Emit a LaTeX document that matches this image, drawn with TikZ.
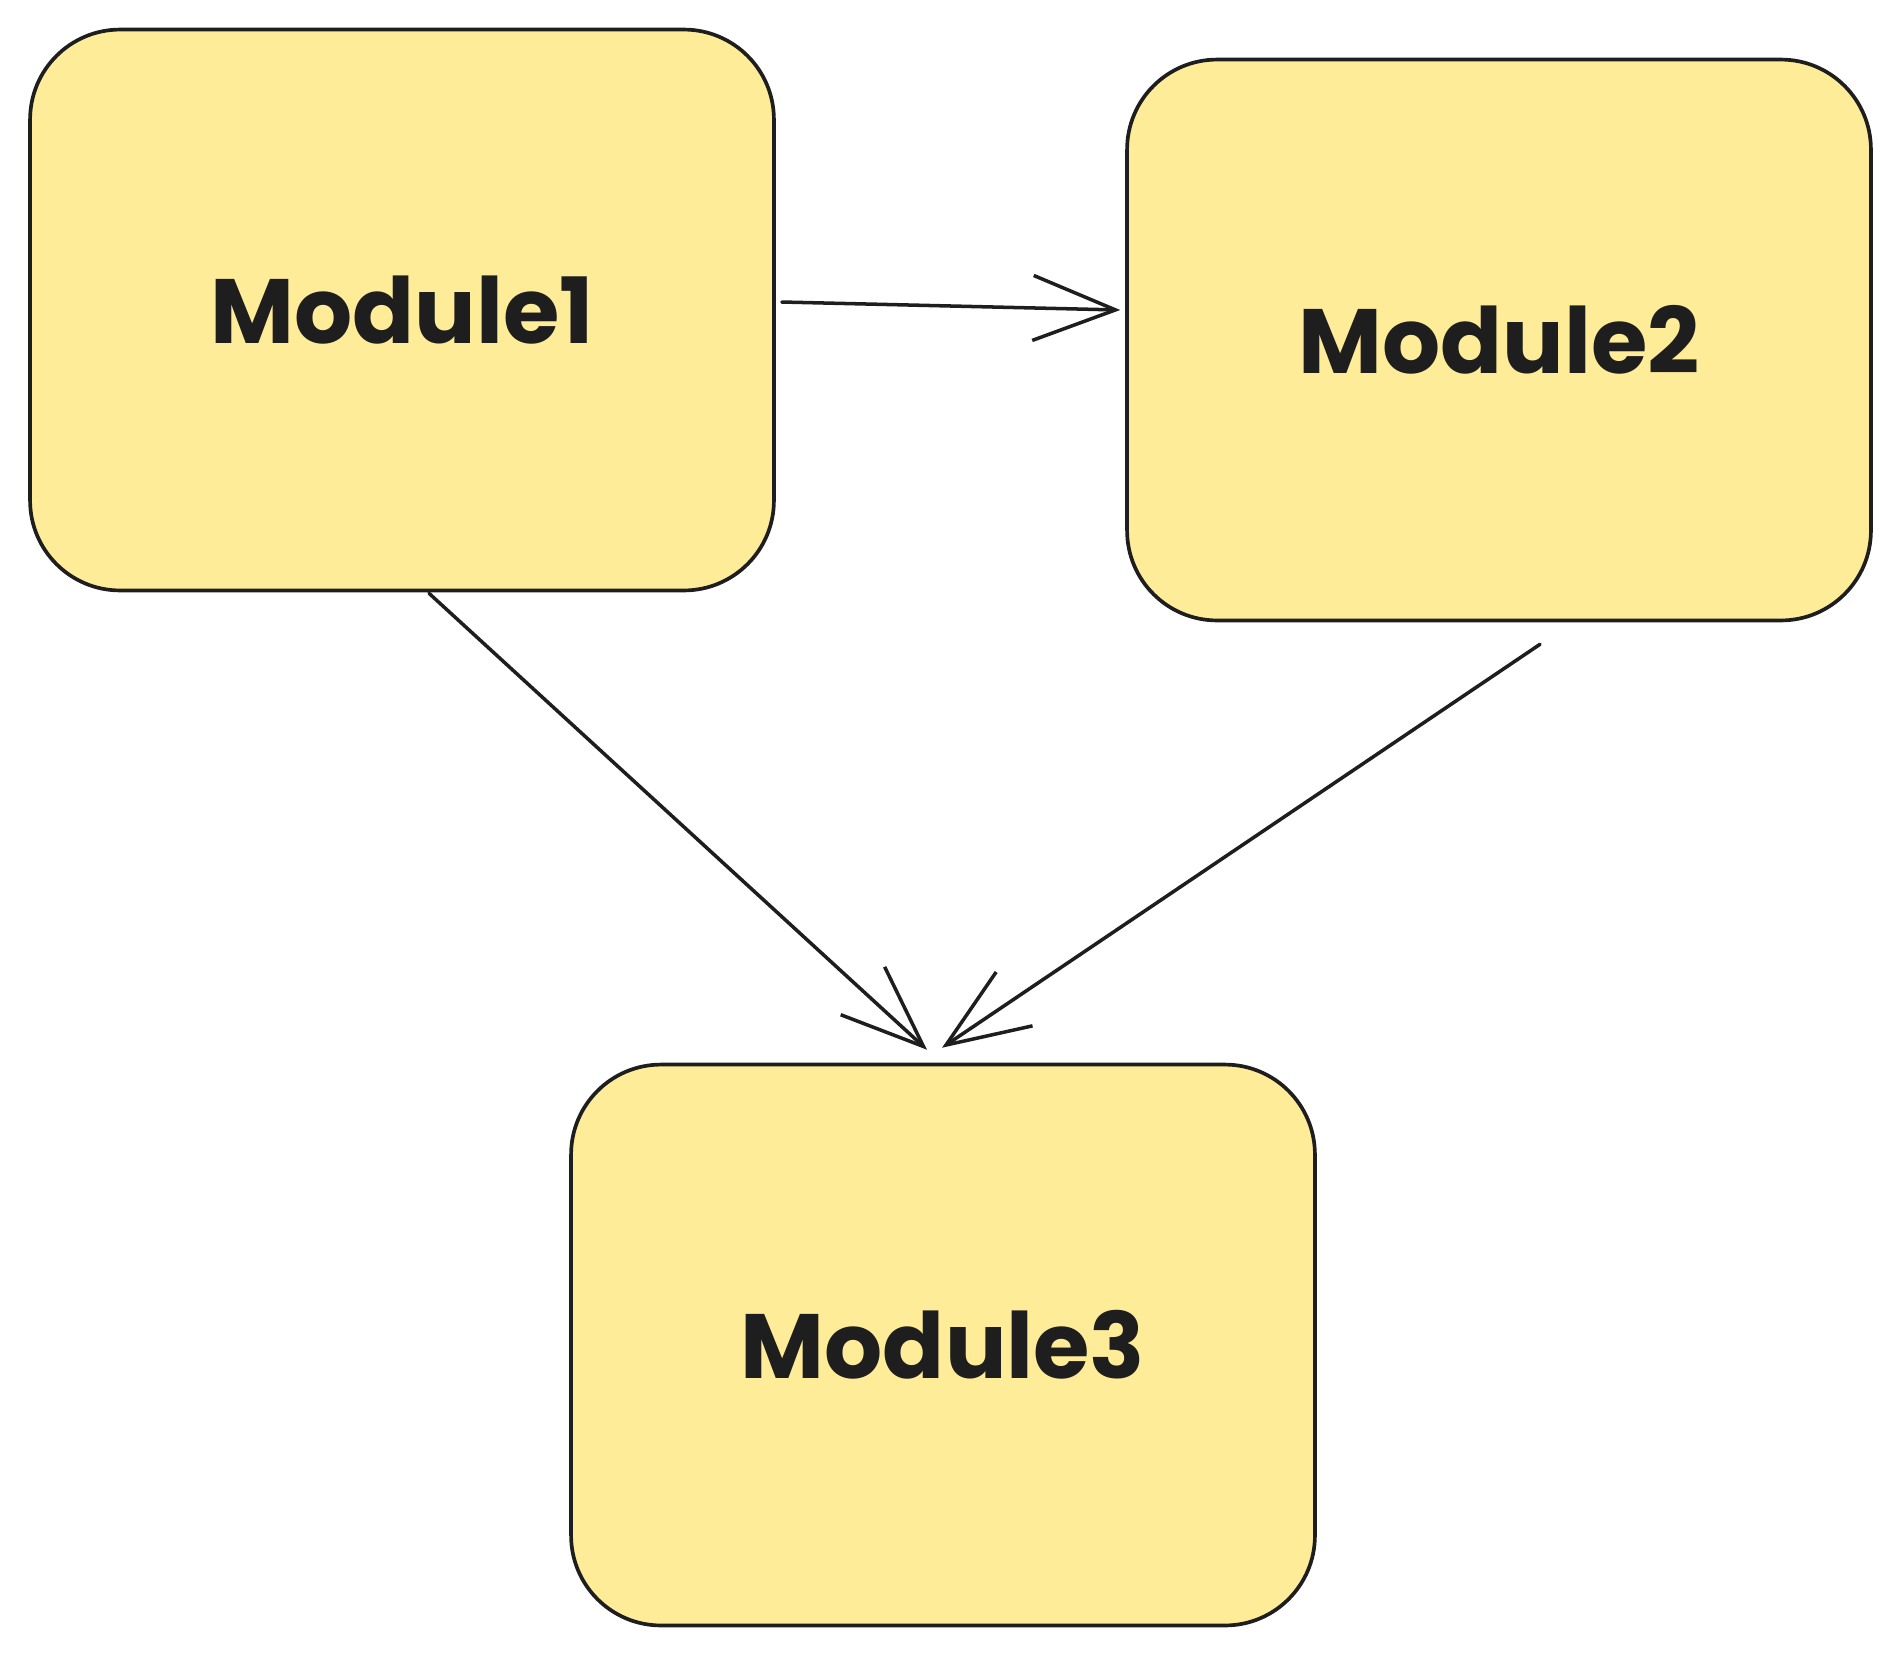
\documentclass[tikz,border=0pt]{standalone}
\usepackage{fontspec}
\setmainfont{Poppins}
\usetikzlibrary{arrows.meta}
\begin{document}
\begin{tikzpicture}[
        x=0.02cm, y=-0.02cm,
        module/.style={draw=mystroke, fill=myyellow, line width=2.1pt, rounded corners=1.8cm,
            minimum width=14.88cm, minimum height=11.22cm, inner sep=0pt,
            font=\fontsize{52}{56}\selectfont\bfseries, text=mystroke},
        edge/.style={draw=mystroke, line width=2pt, line cap=round,
            -{Straight Barb[length=1.65cm, width=1.3cm, line width=2pt]}}
    ]

        \definecolor{myyellow}{RGB}{255, 236, 153}
        \definecolor{mystroke}{RGB}{30, 30, 30}

        \useasboundingbox (0,0) rectangle (1902,1654);

        \node[module] (m1) at (402, 310) {Module1};
        \node[module] (m2) at (1499, 340) {Module2};
        \node[module] (m3) at (943, 1345) {Module3};

        \draw[edge] ([xshift=0.12cm, yshift=0.16cm]m1.east) -- ([xshift=-0.1cm, yshift=0.6cm]m2.west);
        \draw[edge] ([xshift=0.54cm, yshift=-0.02cm]m1.south) -- ([xshift=-0.32cm, yshift=0.26cm]m3.north);
        \draw[edge] ([xshift=0.82cm, yshift=-0.44cm]m2.south) -- ([xshift=-0.02cm, yshift=0.3cm]m3.north);
    \end{tikzpicture}
\end{document}
